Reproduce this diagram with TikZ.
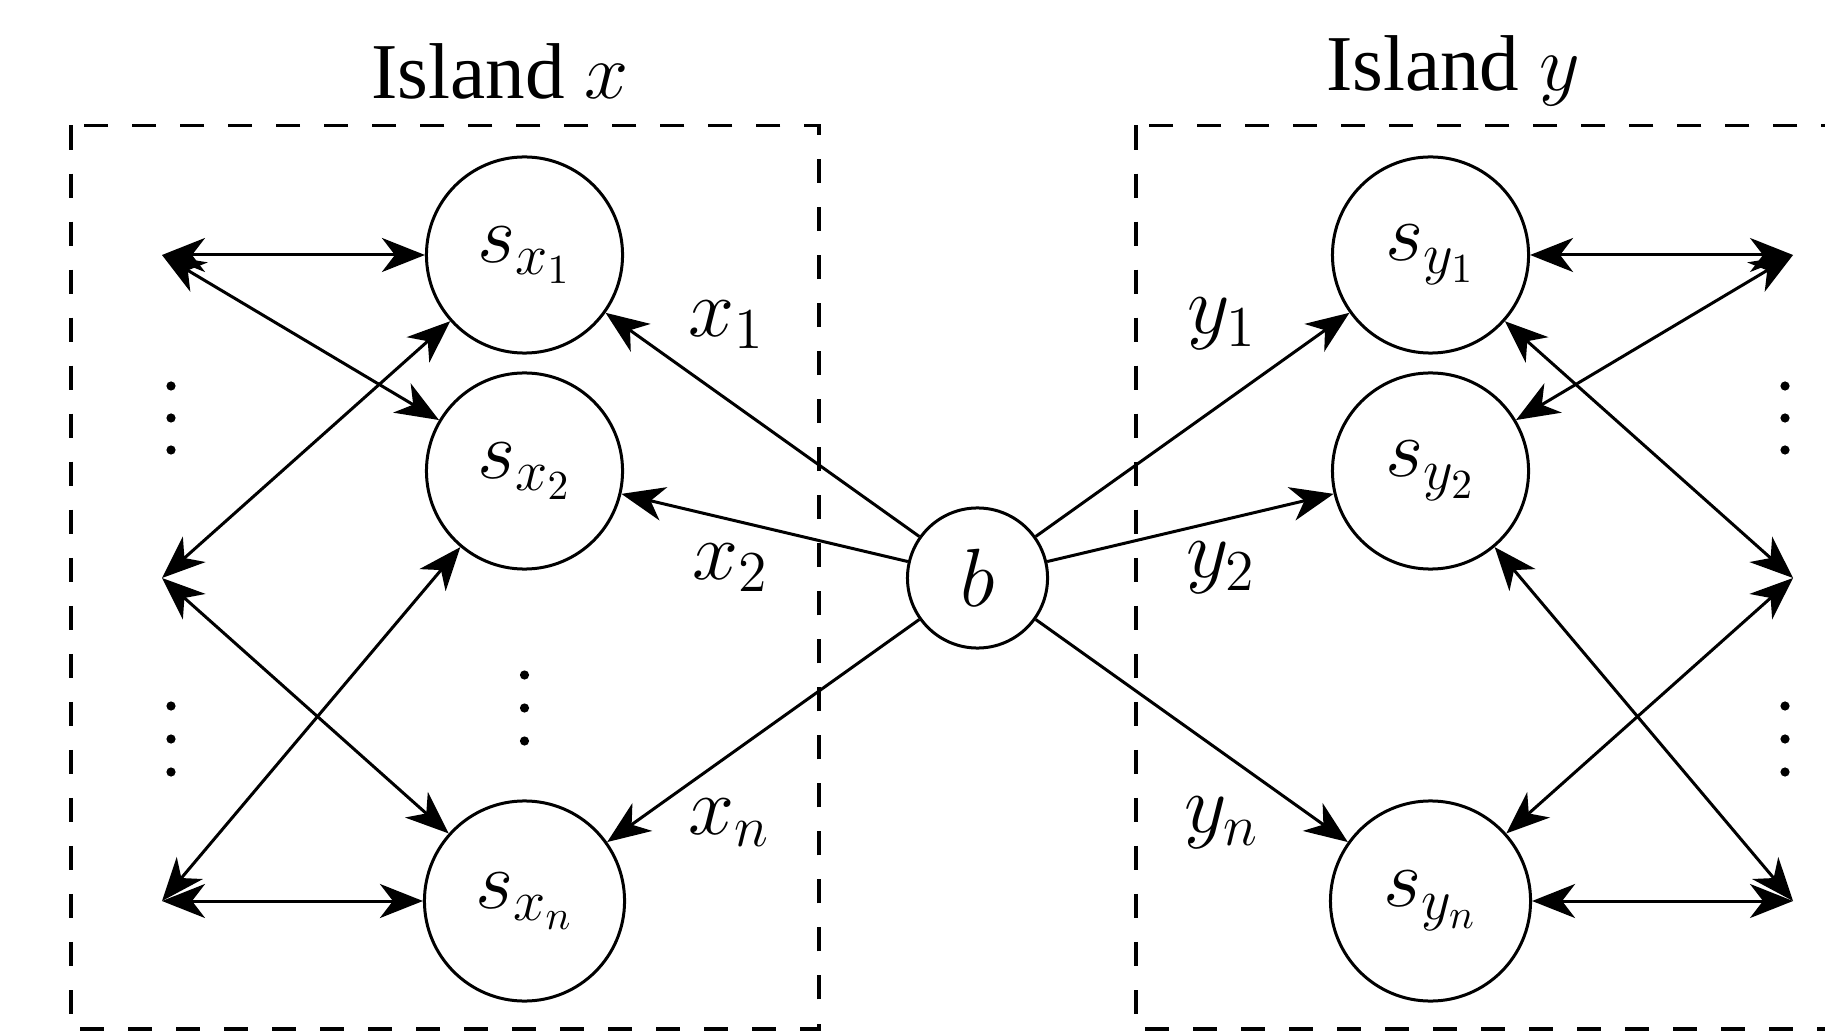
\RequirePackage{fix-cm}
\documentclass[tikz,border=0pt]{standalone}
\usepackage[no-math]{fontspec}
\setmainfont{Liberation Serif}
\usetikzlibrary{arrows.meta}
\tikzset{
  tip/.tip={Stealth[length=0.43cm,width=0.34cm,inset=0.13cm]},
  state/.style={draw,circle,inner sep=0pt,line width=0.03cm},
  link/.style={line width=0.03cm},
  biarrow/.style={link,tip-tip},
  oneway/.style={link,-tip},
  island/.style={draw,line width=0.033cm,dash pattern=on 0.24cm off 0.24cm},
  title/.style={font=\fontsize{22.5}{27}\selectfont},
  dotmark/.style={fill=black},
}
\begin{document}
\begin{tikzpicture}[x=0.01cm,y=-0.01cm,font=\fontsize{23.5}{28}\selectfont]
\clip (0,0) rectangle (1825,1031);
% island boxes
\draw[island] (71,125.5) rectangle (819,1029);
\draw[island] (1136,125.5) rectangle (1884,1029);
\node[title] (tx) at (500,71) {Island $x$};
\node[title] (ty) at (1453,71) {Island $y$};
% states
\node[state,minimum size=1.96cm] (sx1) at (524.5,255) {$s_{x_1}$};
\node[state,minimum size=1.96cm] (sx2) at (524.5,471) {$s_{x_2}$};
\node[state,minimum size=2.0cm] (sxn) at (524.5,901) {$s_{x_n}$};
\node[state,minimum size=1.4cm] (b) at (977.5,578) {$b$};
\node[state,minimum size=1.96cm] (sy1) at (1430.5,255) {$s_{y_1}$};
\node[state,minimum size=1.96cm] (sy2) at (1430.5,471) {$s_{y_2}$};
\node[state,minimum size=2.0cm] (syn) at (1430.5,901) {$s_{y_n}$};
% free ends
\coordinate (L1) at (162,255);
\coordinate (L2) at (162,578);
\coordinate (L3) at (162,901);
\coordinate (R1) at (1793,255);
\coordinate (R2) at (1793,578);
\coordinate (R3) at (1793,901);
% left links
\draw[biarrow] (L1) -- (sx1);
\draw[biarrow] (L1) -- (sx2);
\draw[biarrow] (L2) -- (sx1);
\draw[biarrow] (L2) -- (sxn);
\draw[biarrow] (L3) -- (sx2);
\draw[biarrow] (L3) -- (sxn);
% right links
\draw[biarrow] (R1) -- (sy1);
\draw[biarrow] (R1) -- (sy2);
\draw[biarrow] (R2) -- (sy1);
\draw[biarrow] (R2) -- (syn);
\draw[biarrow] (R3) -- (sy2);
\draw[biarrow] (R3) -- (syn);
% bridge
\draw[oneway] (b) -- (sx1);
\draw[oneway] (b) -- (sx2);
\draw[oneway] (b) -- (sxn);
\draw[oneway] (b) -- (sy1);
\draw[oneway] (b) -- (sy2);
\draw[oneway] (b) -- (syn);
% labels
\node (lx1) at (727,325) {$x_1$};
\node (lx2) at (731,568) {$x_2$};
\node (lxn) at (729,823) {$x_n$};
\node (ly1) at (1222,324) {$y_1$};
\node (ly2) at (1221,568) {$y_2$};
\node (lyn) at (1222,823) {$y_n$};
% vertical dots
\foreach \yy in {386,418,450,706,739,772} {
  \fill[dotmark] (171,\yy) circle (4.6);
  \fill[dotmark] (1785,\yy) circle (4.6);
}
\foreach \yy in {675,708,741} {
  \fill[dotmark] (524.5,\yy) circle (4.6);
}
\end{tikzpicture}
\end{document}
